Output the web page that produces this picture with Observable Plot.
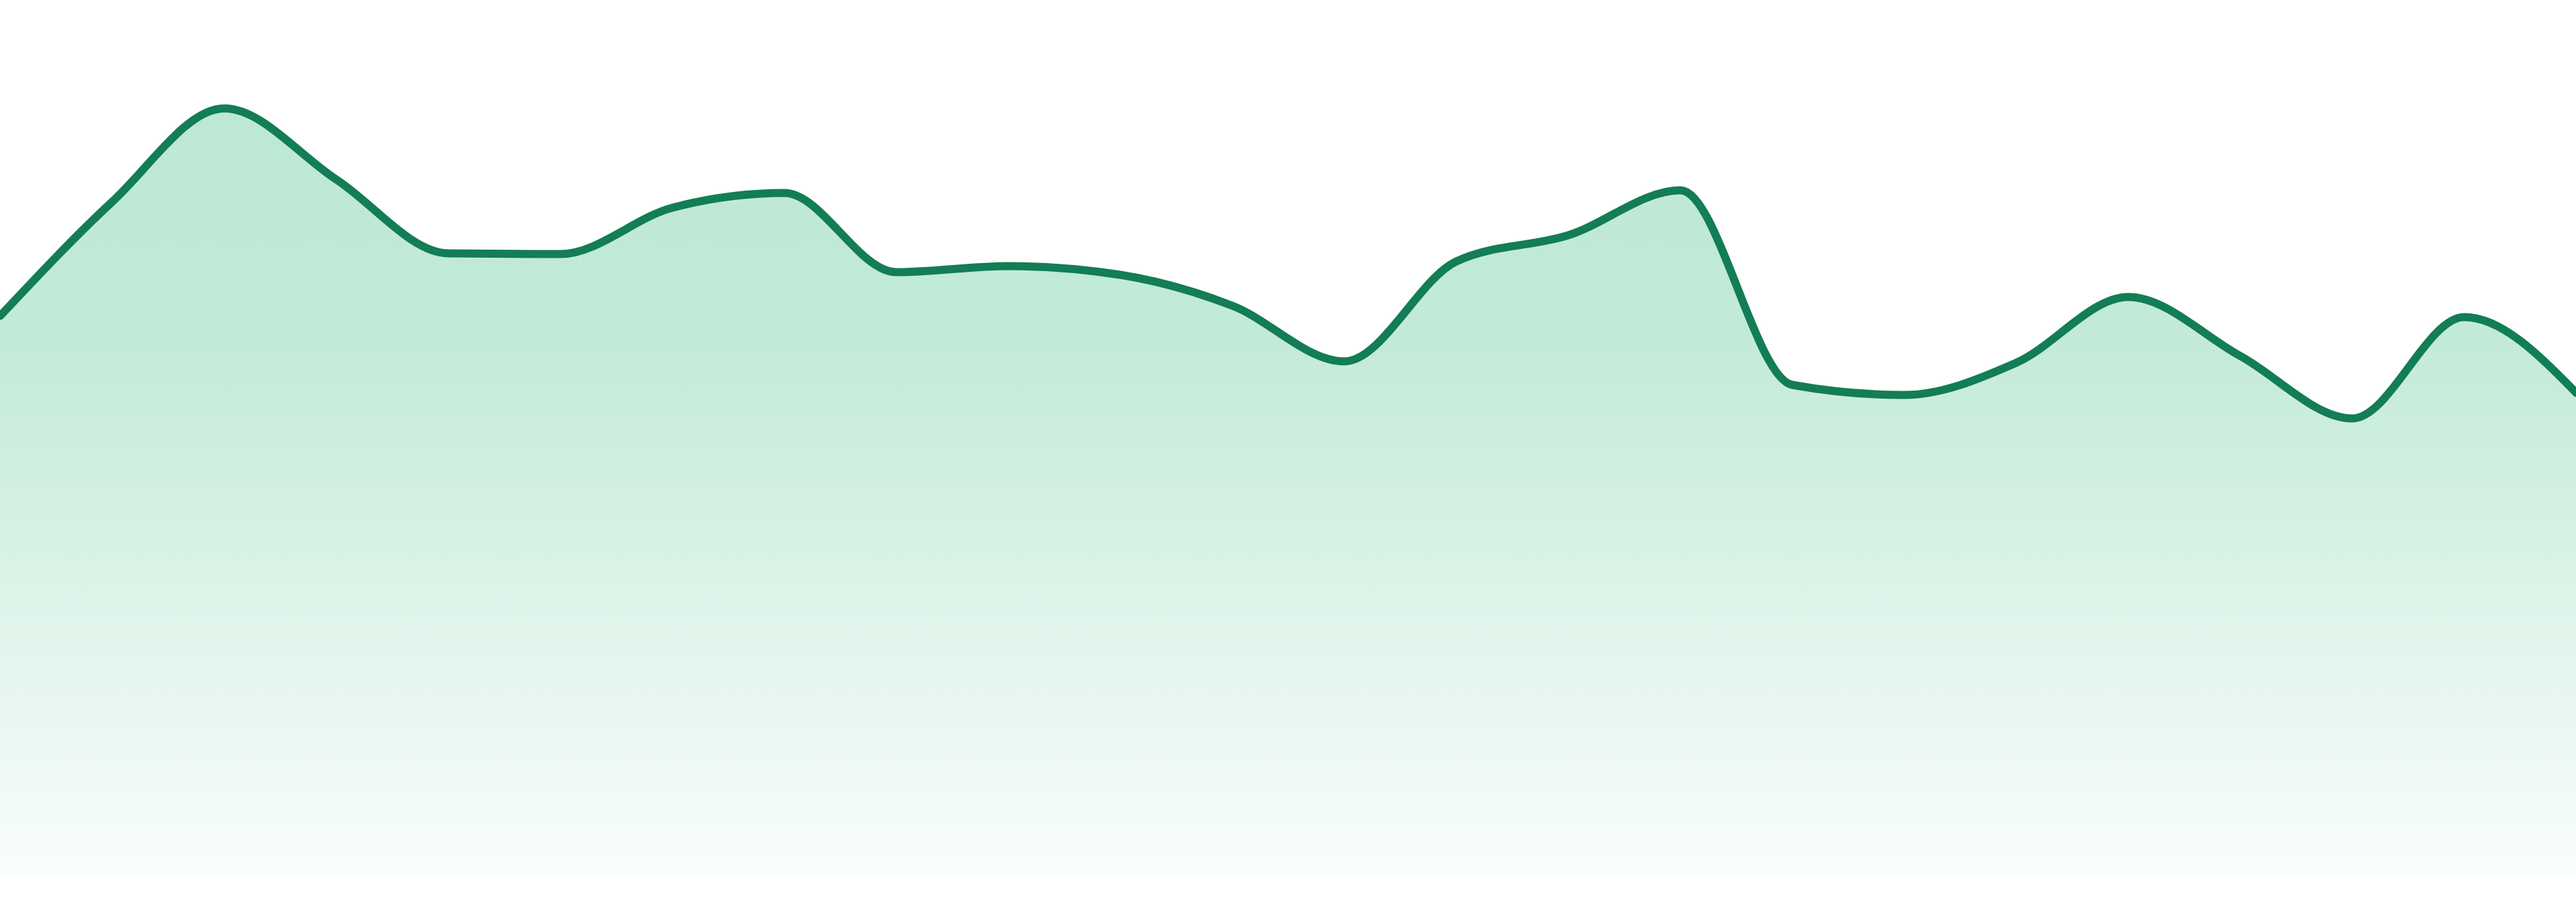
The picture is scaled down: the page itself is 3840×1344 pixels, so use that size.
<!DOCTYPE html>
<html>
<head>
<meta charset="utf-8">
<script src="https://cdn.jsdelivr.net/npm/d3@7"></script>
<script src="https://cdn.jsdelivr.net/npm/@observablehq/plot@0.6"></script>
<style>
  html, body { margin: 0; padding: 0; background: #ffffff; }
  #chart svg { display: block; }
</style>
</head>
<body>
<div id="chart"></div>
<script>
// Point index along the x axis (24 evenly spaced samples)
const indices = d3.range(24);
// Series values
const values = [
  83.5, 100.5, 114.4, 103.8, 92.8, 92.7, 99.6, 101.8,
  90.0, 90.9, 89.6, 85.0, 76.7, 91.6, 95.5, 102.2,
  73.2, 71.7, 76.5, 86.3, 77.5, 68.2, 83.3, 72.0
];
const data = indices.map((i) => ({ i, v: values[i] }));

const chart = Plot.plot({
  width: 3840,
  height: 1344,
  marginTop: 0,
  marginRight: 0,
  marginLeft: 0,
  marginBottom: 39,
  x: { domain: [0, 23], axis: null },
  y: { domain: [0, 130.5], axis: null },
  marks: [
    Plot.areaY(data, { x: "i", y: "v", curve: "monotone-x", fill: "url(#areaGrad)" }),
    Plot.lineY(data, { x: "i", y: "v", curve: "monotone-x", stroke: "#137d55", strokeWidth: 12, strokeLinejoin: "round", strokeLinecap: "round" })
  ]
});

const svg = d3.select(chart);
const defs = svg.insert("defs", ":first-child");
const grad = defs.append("linearGradient")
  .attr("id", "areaGrad")
  .attr("x1", 0).attr("y1", 0).attr("x2", 0).attr("y2", 1);
grad.append("stop").attr("offset", "0%").attr("stop-color", "#bce8d4").attr("stop-opacity", 1);
grad.append("stop").attr("offset", "30%").attr("stop-color", "#bce8d4").attr("stop-opacity", 0.9);
grad.append("stop").attr("offset", "100%").attr("stop-color", "#bce8d4").attr("stop-opacity", 0.08);

document.getElementById("chart").appendChild(chart);
</script>
</body>
</html>
